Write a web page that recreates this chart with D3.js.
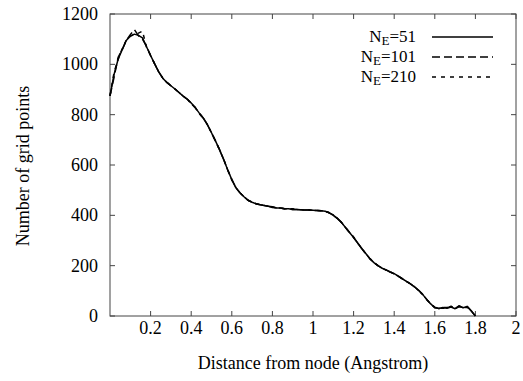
<!DOCTYPE html>
<html>
<head>
<meta charset="utf-8">
<script src="https://cdn.jsdelivr.net/npm/d3@7"></script>
</head>
<body style="margin:0">
<svg id="chart" width="523" height="381" font-family="Liberation Serif" style="font-family: 'Liberation Serif', serif; display:block; background:#fff"></svg>
<script>
// ---- data ----
const distance = [0,0.02,0.04,0.06,0.08,0.1,0.12,0.14,0.16,0.18,0.2,0.22,0.24,0.26,0.28,0.3,0.32,0.34,0.36,0.38,0.4,0.42,0.44,0.46,0.48,0.5,0.52,0.54,0.56,0.58,0.6,0.62,0.64,0.66,0.68,0.7,0.72,0.74,0.76,0.78,0.8,0.82,0.84,0.86,0.88,0.9,0.92,0.94,0.96,0.98,1,1.02,1.04,1.06,1.08,1.1,1.12,1.14,1.16,1.18,1.2,1.22,1.24,1.26,1.28,1.3,1.32,1.34,1.36,1.38,1.4,1.42,1.44,1.46,1.48,1.5,1.52,1.54,1.56,1.58,1.6,1.62,1.64,1.66,1.68,1.7,1.72,1.74,1.76,1.78,1.8];
const countsNE51 = [875,960,1020,1058,1095,1112,1120,1115,1105,1070,1035,1002,970,945,928,915,902,888,874,862,846,828,806,786,760,728,695,660,622,580,542,510,490,474,460,452,446,442,439,436,434,429,429,426,426,423,423,422,421,421,420,419,418,416,410,400,388,372,352,332,312,290,268,248,228,212,200,190,183,175,168,158,148,138,128,116,102,86,66,48,33,30,34,31,36,29,40,33,38,20,0];
const countsNE101 = [875,948,1028,1058,1095,1118,1138,1114,1100,1072,1035,1002,970,945,928,915,902,888,874,862,844,828,806,786,760,728,695,660,622,580,542,510,490,474,460,452,446,442,439,436,431,429,429,426,426,423,423,422,421,421,420,419,418,416,410,402,388,372,352,332,312,290,268,248,228,212,200,190,183,175,168,158,148,138,128,116,102,86,66,48,35,30,34,34,36,29,37,33,38,20,0];
const countsNE210 = [875,968,1020,1062,1095,1112,1118,1124,1132,1068,1035,1002,970,945,928,915,902,888,874,862,846,828,804,786,760,728,695,660,622,580,542,510,490,474,460,452,446,442,439,436,434,429,429,426,426,426,423,422,421,421,420,419,418,416,410,400,388,372,352,332,314,290,268,248,228,212,200,190,183,175,168,158,148,138,128,116,102,86,66,48,33,30,31,31,39,29,40,33,35,20,0];
const seriesNames = ["51", "101", "210"];
const xTicks = [0.2, 0.4, 0.6, 0.8, 1, 1.2, 1.4, 1.6, 1.8, 2];
const yTicks = [0, 200, 400, 600, 800, 1000, 1200];

// ---- layout ----
const FONT = "Liberation Serif";
const svg = d3.select("#chart");
const pL = 110, pR = 516, pT = 14, pB = 316;
const x = d3.scaleLinear().domain([0, 2]).range([pL, pR]);
const y = d3.scaleLinear().domain([0, 1200]).range([pB, pT]);
const tickLen = 5;
const fontSize = 18;

function label(sel) {
  return sel.attr("font-family", FONT).style("font-family", "'Liberation Serif', serif").attr("fill", "#000");
}

// frame
svg.append("rect").attr("x", pL).attr("y", pT)
  .attr("width", pR - pL).attr("height", pB - pT)
  .attr("fill", "none").attr("stroke", "#444").attr("stroke-width", 1);

// ticks (inward, mirrored)
const tickG = svg.append("g").attr("stroke", "#444").attr("stroke-width", 1);
xTicks.forEach(t => {
  tickG.append("line").attr("x1", x(t)).attr("x2", x(t)).attr("y1", pB).attr("y2", pB - tickLen);
  tickG.append("line").attr("x1", x(t)).attr("x2", x(t)).attr("y1", pT).attr("y2", pT + tickLen);
});
yTicks.forEach(t => {
  tickG.append("line").attr("x1", pL).attr("x2", pL + tickLen).attr("y1", y(t)).attr("y2", y(t));
  tickG.append("line").attr("x1", pR).attr("x2", pR - tickLen).attr("y1", y(t)).attr("y2", y(t));
});

// tick labels
svg.append("g").selectAll("text").data(xTicks).join("text")
  .attr("x", d => x(d)).attr("y", 334)
  .attr("text-anchor", "middle").attr("font-size", fontSize)
  .call(label)
  .text(d => d3.format("~g")(d));
svg.append("g").selectAll("text").data(yTicks).join("text")
  .attr("x", 98).attr("y", d => y(d) + 6)
  .attr("text-anchor", "end").attr("font-size", fontSize)
  .call(label)
  .text(d => d);

// axis titles
svg.append("text").attr("x", 313).attr("y", 369)
  .attr("text-anchor", "middle").attr("font-size", fontSize)
  .call(label)
  .text("Distance from node (Angstrom)");
svg.append("text").attr("transform", "translate(29,166) rotate(-90)")
  .attr("text-anchor", "middle").attr("font-size", fontSize)
  .call(label)
  .text("Number of grid points");

// lines
const allSeries = [countsNE51, countsNE101, countsNE210];
const dashes = [null, "8,4", "4,5"];
const line = d3.line().x((d, i) => x(distance[i])).y(d => y(d));
allSeries.forEach((s, k) => {
  svg.append("path").datum(s)
    .attr("d", line)
    .attr("fill", "none").attr("stroke", "#000").attr("stroke-width", 1.5)
    .attr("stroke-linejoin", "round")
    .attr("stroke-dasharray", dashes[k]);
});

// legend
seriesNames.forEach((n, k) => {
  const ly = 37 + k * 20;
  const t = svg.append("text").attr("x", 416).attr("y", ly + 5)
    .attr("text-anchor", "end").attr("font-size", 17).call(label);
  t.append("tspan").text("N");
  t.append("tspan").attr("dy", 3).attr("font-size", 13).text("E");
  t.append("tspan").attr("dy", -3).text("=" + n);
  svg.append("line").attr("x1", 432).attr("x2", 493).attr("y1", ly).attr("y2", ly)
    .attr("stroke", "#000").attr("stroke-width", 1.5)
    .attr("stroke-dasharray", dashes[k]);
});
</script>
</body>
</html>
